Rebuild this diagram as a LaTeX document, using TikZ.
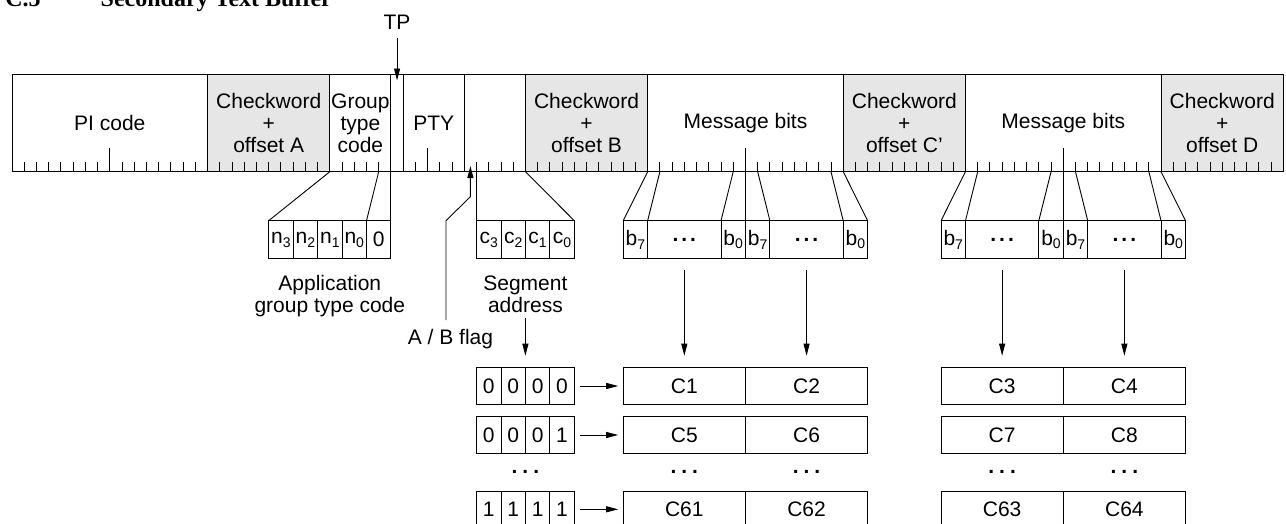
\documentclass[tikz,border=0pt]{standalone}
\usepackage{fontspec}
\setmainfont{Liberation Sans}
\newfontfamily\headfont{Liberation Serif}
\usetikzlibrary{arrows.meta}
\definecolor{cwgray}{RGB}{230,230,230}
\newcommand\idx[2]{#1\raisebox{-0.35ex}{\fontsize{14}{14}\selectfont #2}}
\newcommand\bitdots[1]{\textbf{.\hspace{#1}.\hspace{#1}.}}

\begin{document}
\begin{tikzpicture}[x=12.224pt, y=-1pt, line width=0.9pt,
    font=\fontsize{21}{22}\selectfont,
    field/.style={draw, inner sep=0pt, outer sep=0pt, align=center,
                  minimum height=97.7pt},
    cell/.style={draw, inner sep=0pt, outer sep=0pt,
                 minimum width=2*12.224pt, minimum height=37.6pt},
    slot/.style={draw, inner sep=0pt, outer sep=0pt,
                 minimum width=10*12.224pt, minimum height=36.6pt},
    caption/.style={inner sep=0pt, align=center},
    tip/.style={-{Triangle[length=12pt,width=6pt]}}]
  \useasboundingbox (-0.98168,0) rectangle (104.2212,523);

  % heading, cut by the top edge
  \node[anchor=base west, font=\headfont\bfseries\fontsize{24}{24}\selectfont]
    (secno) at (-0.85,6.5) {C.5};
  \node[anchor=base west, font=\headfont\bfseries\fontsize{24}{24}\selectfont]
    (title) at (6.95,6.5) {Secondary Text Buffer};

  % blocks A to D, one node per field
  \foreach \a/\b/\c/\t in {0/16/white/PI code,
      16/26/cwgray/Checkword\\+\\offset A, 26/31/white/Group\\type\\code,
      31/32/white/, 32/37/white/PTY, 37/42/white/,
      42/52/cwgray/Checkword\\+\\offset B, 52/68/white/Message bits,
      68/78/cwgray/Checkword\\+\\offset C', 78/94/white/Message bits,
      94/104/cwgray/Checkword\\+\\offset D}
    \node[field, fill=\c, minimum width=(\b-\a)*12.224pt] (f\a)
      at ({(\a+\b)/2},122.85) {\t};
  \foreach \i in {1,...,103}
    \draw (\i,161.7) -- (\i,171.7) coordinate (t\i);
  \foreach \i in {8,34}
    \draw (\i,147.7) -- (t\i);

  % group type code
  \foreach \nm/\x/\t in {n3/22/\idx{n}{3}, n2/24/\idx{n}{2},
      n1/26/\idx{n}{1}, n0/28/\idx{n}{0}, gb0/30/0}
    \node[cell] (\nm) at (\x,239.5) {\t};
  \draw (f16.south east) -- (n3.north west);
  \draw (t30) -- (gb0.north west);
  \draw (f26.south east) -- (gb0.north east);

  % segment address
  \foreach \nm/\x in {3/39, 2/41, 1/43, 0/45}
    \node[cell] (c\nm) at (\x,239.5) {\idx{c}{\nm}};
  \draw (t38) -- (c3.north west);
  \draw (f42.south west) -- (c0.north east);

  % message bits of blocks C and D
  \foreach \k/\o/\pa/\pb/\pc/\pd/\pe in {m1/52/53/59/61/67/68, m2/78/79/85/87/93/94} {
    \node[cell] (\k b7a) at (\o-1,239.5) {\idx{b}{7}};
    \node[cell, minimum width=6*12.224pt] (\k dta) at (\o+3,239.5) {\bitdots{3pt}};
    \node[cell] (\k b0a) at (\o+7,239.5) {\idx{b}{0}};
    \node[cell] (\k b7b) at (\o+9,239.5) {\idx{b}{7}};
    \node[cell, minimum width=6*12.224pt] (\k dtb) at (\o+13,239.5) {\bitdots{3pt}};
    \node[cell] (\k b0b) at (\o+17,239.5) {\idx{b}{0}};
    \draw (t\o) -- (\k b7a.north west);
    \draw (t\pa) -- (\k b7a.north east);
    \draw (t\pb) -- (\k b0a.north west);
    \draw (\o+8,147.7) coordinate (\k mid) -- (\k b0a.north east);
    \draw (t\pc) -- (\k b7b.north east);
    \draw (t\pd) -- (\k b0b.north west);
    \draw (t\pe) -- (\k b0b.north east);
  }

  % character table
  \foreach \y/\r/\da/\db/\dc/\dd in {386/1/0/0/0/0, 435/2/0/0/0/1, 509.3/4/1/1/1/1} {
    \node[cell, minimum height=36.6pt] (a\r a) at (39,\y) {\da};
    \node[cell, minimum height=36.6pt] (a\r b) at (41,\y) {\db};
    \node[cell, minimum height=36.6pt] (a\r c) at (43,\y) {\dc};
    \node[cell, minimum height=36.6pt] (a\r d) at (45,\y) {\dd};
  }
  \foreach \y/\r/\ta/\tb/\tc/\td in {386/1/1/2/3/4, 435/2/5/6/7/8, 509.3/4/61/62/63/64} {
    \node[slot] (C\ta) at (55,\y) {C\ta};
    \node[slot] (C\tb) at (65,\y) {C\tb};
    \node[slot] (C\tc) at (81,\y) {C\tc};
    \node[slot] (C\td) at (91,\y) {C\td};
    \draw[tip] ([xshift=6pt]a\r d.east) -- ([xshift=-5pt]C\ta.west);
  }
  \foreach \nm/\x in {adots/42, dots1/55, dots2/65, dots3/81, dots4/91}
    \node[inner sep=0pt] (\nm) at (\x,471.7) {\bitdots{5pt}};
  \foreach \from/\to in {m1dta/C1, m1dtb/C2, m2dta/C3, m2dtb/C4}
    \draw[tip] ([yshift=-12pt]\from.south) -- ([yshift=12pt]\to.north);

  % labels
  \node[caption] (tp) at (31.5,22.5) {TP};
  \node[caption] (appl) at (26,296.3) {Application\\group type code};
  \node[caption] (seg) at (42,294) {Segment\\address};
  \node[caption] (abflag) at (35.87,339.5) {A / B flag};
  \draw[tip] ([yshift=-8pt]tp.south) -- ([yshift=-6.5pt]f31.north);
  \draw[tip] ([yshift=-5pt]seg.south) -- ([yshift=12pt]a1b.north east);
  \coordinate (abfoot) at (35.5,320);
  \coordinate (abbend) at (35.5,220.7);
  \coordinate (abkink) at (37.5,196.7);
  \coordinate (abtip) at (37.5,166);
  \draw[tip] (abfoot) -- (abbend) -- (abkink) -- (abtip);
\end{tikzpicture}
\end{document}
